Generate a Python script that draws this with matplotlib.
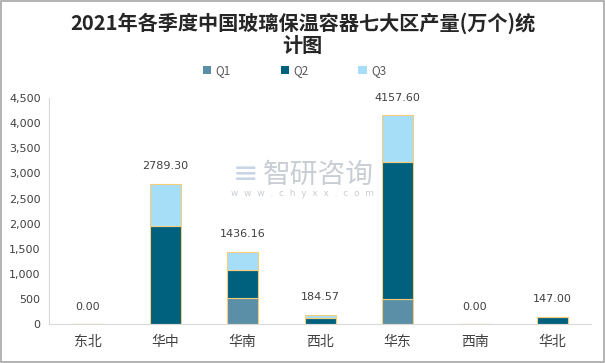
import numpy as np
import matplotlib.pyplot as plt
from matplotlib.patches import Rectangle, Patch

plt.rcParams["font.family"] = ["Noto Sans CJK SC", "DejaVu Sans"]

# data (万个)
regions = ["东北", "华中", "华南", "西北", "华东", "西南", "华北"]
q1 = [0.0, 0.0, 524.0, 0.0, 498.0, 0.0, 0.0]
q2 = [0.0, 1954.0, 553.0, 126.0, 2738.0, 0.0, 147.0]
q3 = [0.0, 835.30, 359.16, 58.57, 921.60, 0.0, 0.0]
totals = [0.00, 2789.30, 1436.16, 184.57, 4157.60, 0.00, 147.00]
series_names = ["Q1", "Q2", "Q3"]
colors = ["#5B8FA8", "#00617F", "#A6DEF7"]
EDGE = "#F7CD7A"

fig = plt.figure(figsize=(6.05, 3.63), dpi=100)
ax = fig.add_axes([0.081, 0.107, 0.896, 0.623])

x = np.arange(len(regions))
bottom = np.zeros(len(regions))
for name, vals, c in zip(series_names, [q1, q2, q3], colors):
    vals = np.array(vals)
    ax.bar(x, vals, width=0.4, bottom=bottom, color=c,
           edgecolor=EDGE, linewidth=0.8)
    bottom += vals

for xi, t in zip(x, totals):
    ax.annotate(f"{t:.2f}", (xi, t), xytext=(0, 9), textcoords="offset points",
                ha="center", va="bottom", fontsize=8, color="#404040",
                family=["DejaVu Sans"])

ax.set_xlim(-0.5, len(regions) - 0.5)
ax.set_ylim(0, 4500)
ax.set_yticks(np.arange(0, 4501, 500))
ax.set_yticklabels([f"{v:,}" for v in range(0, 4501, 500)], family=["DejaVu Sans"])
ax.set_xticks(x)
ax.set_xticklabels(regions, fontsize=10, color="#404040")
ax.tick_params(axis="y", length=0, labelsize=8, labelcolor="#404040", pad=6)
ax.tick_params(axis="x", length=0, pad=8)
for s in ["top", "right"]:
    ax.spines[s].set_visible(False)
ax.spines["left"].set_color("#D9D9D9")
ax.spines["bottom"].set_color("#D9D9D9")

# title and legend
fig.text(0.5, 0.906, "2021年各季度中国玻璃保温容器七大区产量(万个)统\n计图",
         ha="center", va="center", fontsize=14.5, fontweight="bold",
         color="#262626", linespacing=1.1)
handles = [Patch(facecolor=c, edgecolor="none") for c in colors]
fig.legend(handles, series_names, loc="center", bbox_to_anchor=(0.487, 0.805),
           ncol=3, frameon=False, fontsize=8.5, handlelength=0.7, handleheight=0.7,
           columnspacing=4.2, handletextpad=0.4, labelcolor="#595959")

# watermark
fig.text(0.435, 0.518, "智研咨询", fontsize=20, color="#C9CED4", ha="left", va="center")
fig.text(0.384, 0.518, "≡", fontsize=22, color="#C9D4E4", ha="left", va="center",
         family=["DejaVu Sans"])
fig.text(0.5, 0.466, "w  w  w  .  c  h  y  x  x  .  c  o  m", fontsize=6.5,
         color="#C9CED4", ha="center", va="center", family=["DejaVu Sans"])

fig.patches.append(Rectangle((0.001, 0.002), 0.997, 0.995, transform=fig.transFigure,
                             fill=False, edgecolor="#A6A6A6", linewidth=1.2))

fig.savefig("out.png", dpi=100)
